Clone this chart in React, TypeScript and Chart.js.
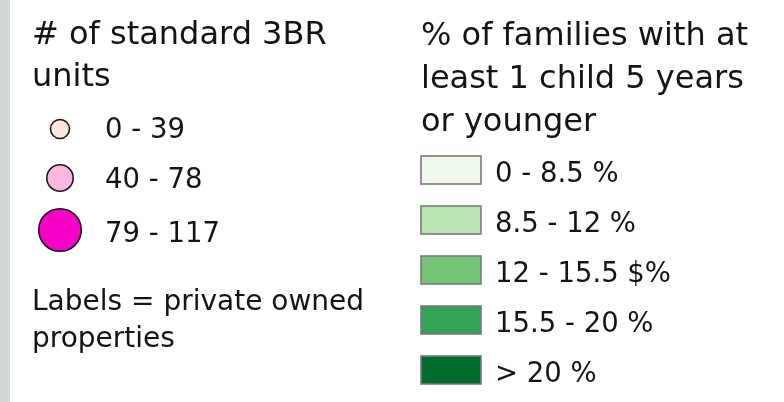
import React, { useEffect, useRef } from "react";
import { Chart, registerables } from "chart.js";

Chart.register(...registerables);

// ---- legend content ----
const sizeTitle = ["# of standard 3BR", "units"];
const sizeClasses = ["0 - 39", "40 - 78", "79 - 117"];
const sizeColors = ["#fde6dd", "#fbb8de", "#f700c8"];
const sizeRadii = [9.5, 13.2, 21.3];
const noteLines = ["Labels = private owned", "properties"];

const shareTitle = ["% of families with at", "least 1 child 5 years", "or younger"];
const shareClasses = ["0 - 8.5 %", "8.5 - 12 %", "12 - 15.5 $%", "15.5 - 20 %", "> 20 %"];
const shareColors = ["#edf8e9", "#bae4b3", "#74c476", "#31a354", "#006d2c"];

const TITLE_FONT = '32px "DejaVu Sans"';
const CLASS_FONT = '27.5px "DejaVu Sans"';
const NOTE_FONT = '28px "DejaVu Sans"';
const TEXT = "#141414";

const legendPlugin = {
  id: "mapLegend",
  afterDraw(chart: any) {
    const ctx: CanvasRenderingContext2D = chart.ctx;
    const W = chart.width;
    const H = chart.height;
    ctx.save();
    ctx.fillStyle = "#ffffff";
    ctx.fillRect(0, 0, W, H);
    // left grey strip
    ctx.fillStyle = "#d2d6d7";
    ctx.fillRect(0, 0, 10, H);

    ctx.fillStyle = TEXT;
    ctx.textBaseline = "alphabetic";
    ctx.textAlign = "left";

    // left column
    const lx = 32;
    ctx.font = TITLE_FONT;
    sizeTitle.forEach((t, i) => ctx.fillText(t, lx, 44 + i * 42));
    const circleCY = [129, 178, 230];
    const labelBase = [138, 188, 242];
    ctx.font = CLASS_FONT;
    sizeClasses.forEach((t, i) => {
      ctx.beginPath();
      ctx.arc(60, circleCY[i], sizeRadii[i], 0, Math.PI * 2);
      ctx.fillStyle = sizeColors[i];
      ctx.fill();
      ctx.lineWidth = 1.6;
      ctx.strokeStyle = "#1a1a1a";
      ctx.stroke();
      ctx.fillStyle = TEXT;
      ctx.fillText(t, 105, labelBase[i]);
    });
    ctx.font = NOTE_FONT;
    noteLines.forEach((t, i) => ctx.fillText(t, lx, 310 + i * 37));

    // right column
    const rx = 421;
    ctx.font = TITLE_FONT;
    shareTitle.forEach((t, i) => ctx.fillText(t, rx, 45 + i * 43));
    ctx.font = CLASS_FONT;
    shareClasses.forEach((t, i) => {
      const top = 156 + i * 50;
      ctx.fillStyle = shareColors[i];
      ctx.fillRect(421, top, 60, 28);
      ctx.lineWidth = 1.6;
      ctx.strokeStyle = "#7a7a7a";
      ctx.strokeRect(421, top, 60, 28);
      ctx.fillStyle = TEXT;
      ctx.fillText(t, 495, top + 25.5);
    });
    ctx.restore();
  },
};

export default function App() {
  const ref = useRef<HTMLCanvasElement>(null);
  useEffect(() => {
    document.body.style.margin = "0";
    document.body.style.overflow = "hidden";
    const chart = new Chart(ref.current!, {
      type: "bar",
      data: { labels: [], datasets: [] },
      options: {
        responsive: false,
        animation: false,
        events: [],
        layout: { padding: 0 },
        plugins: { legend: { display: false }, tooltip: { enabled: false } },
        scales: { x: { display: false }, y: { display: false } },
      },
      plugins: [legendPlugin],
    });
    return () => chart.destroy();
  }, []);
  return (
    <div style={{ width: 784, height: 402 }}>
      <canvas ref={ref} width={784} height={402} style={{ display: "block" }} />
    </div>
  );
}
